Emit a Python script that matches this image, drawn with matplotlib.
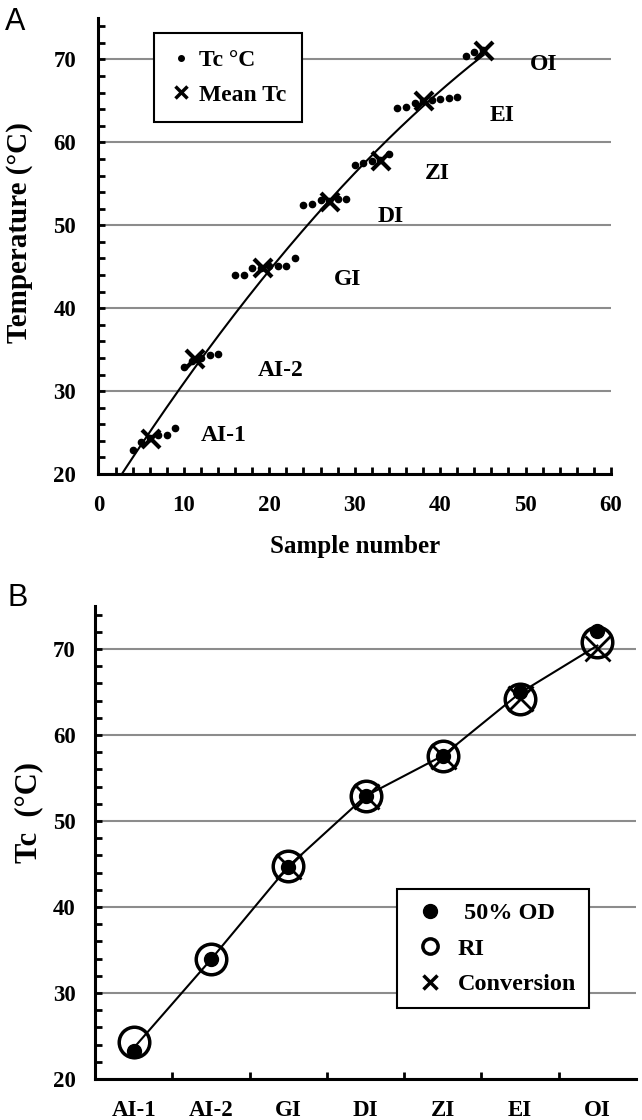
import numpy as np
import matplotlib
matplotlib.use('Agg')
import matplotlib.pyplot as plt
from matplotlib.lines import Line2D
from matplotlib.ticker import MultipleLocator

plt.rcParams['font.family'] = ['Liberation Serif', 'DejaVu Serif']
plt.rcParams['font.weight'] = 'bold'
plt.rcParams['axes.labelweight'] = 'bold'

# panel A: individual samples
sample_no = [4, 5, 6, 7, 8, 9,
             10, 11, 12, 13, 14,
             16, 17, 18, 19, 20, 21, 22, 23,
             24, 25, 26, 27, 28, 29,
             30, 31, 32, 33, 34,
             35, 36, 37, 38, 39, 40, 41, 42,
             43, 44, 45]
tc_sample = [22.9, 23.8, 24.3, 24.7, 24.7, 25.5,
             32.9, 33.6, 34.0, 34.4, 34.5,
             44.0, 44.0, 44.8, 44.9, 45.1, 45.1, 45.1, 46.0,
             52.4, 52.6, 53.0, 52.9, 53.2, 53.2,
             57.3, 57.5, 57.8, 57.9, 58.6,
             64.2, 64.3, 64.7, 65.0, 65.1, 65.2, 65.3, 65.5,
             70.4, 70.9, 71.1]

# panel A: group means
mean_sample = [6.2, 11.25, 19.3, 27.15, 33.1, 38.15, 45.1]
mean_tc = [24.2, 33.9, 44.9, 52.8, 57.75, 64.95, 71.05]
group_names = ['AI-1', 'AI-2', 'GI', 'DI', 'ZI', 'EI', 'OI']
label_x = [14.7, 21.3, 29.2, 34.2, 39.7, 47.3, 52.1]
label_y = [24.6, 32.5, 43.4, 51.0, 56.3, 63.2, 69.4]

# panel B
categories = ['AI-1', 'AI-2', 'GI', 'DI', 'ZI', 'EI', 'OI']
od50 = [23.2, 34.0, 44.7, 52.9, 57.6, 65.0, 72.1]
ri = [24.3, 33.9, 44.8, 52.9, 57.6, 64.2, 70.8]
conversion = [np.nan, np.nan, 44.8, 52.9, 57.6, 64.3, 70.1]
tc_line = [23.6, 33.9, 44.7, 52.9, 57.6, 64.9, 70.4]

grid_col = '#8c8c8c'
fs = 16.5


def style_axes(ax):
    for s in ['top', 'right']:
        ax.spines[s].set_visible(False)
    for s in ['left', 'bottom']:
        ax.spines[s].set_linewidth(2.2)
    ax.set_ylim(20, 75)
    ax.yaxis.set_major_locator(MultipleLocator(10))
    ax.yaxis.set_minor_locator(MultipleLocator(2))
    ax.yaxis.grid(True, which='major', color=grid_col, lw=1.5)
    ax.set_axisbelow(True)
    ax.tick_params(which='both', direction='in', length=5, width=2, labelsize=fs)


fig = plt.figure(figsize=(6.42, 11.2), dpi=100)

# ---- A ----
axA = fig.add_axes([0.1534, 0.5768, 0.7983, 0.4071])
style_axes(axA)
axA.set_xlim(0, 60)
axA.xaxis.set_major_locator(MultipleLocator(10))
axA.xaxis.set_minor_locator(MultipleLocator(2))
axA.tick_params(axis='y', pad=16)
axA.tick_params(axis='x', pad=15)

coef = np.polyfit(mean_sample, mean_tc, 2)
xs = np.linspace(0, mean_sample[-1], 200)
axA.plot(xs, np.polyval(coef, xs), color='k', lw=1.5, zorder=2)
axA.plot(sample_no, tc_sample, 'o', color='k', ms=4.5, zorder=3)
axA.plot(mean_sample, mean_tc, 'x', color='k', ms=13, mew=3, zorder=4)
for name, lx, ly in zip(group_names, label_x, label_y):
    axA.text(lx, ly, name, fontsize=17, ha='center', va='center')

axA.set_xlabel('Sample number', fontsize=18, labelpad=14)
axA.set_ylabel('Temperature (\u00b0C)', fontsize=21)
axA.yaxis.set_label_coords(-0.128, 0.53)

hA = [Line2D([], [], marker='o', ls='none', color='k', ms=4),
      Line2D([], [], marker='x', ls='none', color='k', ms=9, mew=2.5)]
legA = axA.legend(hA, ['Tc \u00b0C', 'Mean Tc'], loc='upper left',
                  bbox_to_anchor=(0.108, 0.967), borderaxespad=0,
                  fancybox=False, framealpha=1, edgecolor='k',
                  prop={'size': 17, 'weight': 'bold'},
                  handlelength=0.9, handletextpad=0.3, labelspacing=0.55,
                  borderpad=0.7)
legA.get_frame().set_linewidth(1.5)

# ---- B ----
axB = fig.add_axes([0.148, 0.0366, 0.8427, 0.4223])
style_axes(axB)
xpos = np.arange(len(categories))
axB.set_xlim(-0.5, len(categories) - 0.5)
axB.set_xticks(np.arange(0.5, len(categories) - 1, 1))
axB.set_xticklabels([])
axB.set_xticks(xpos, minor=True)
axB.set_xticklabels(categories, minor=True)
axB.tick_params(axis='x', which='minor', length=0, pad=15)
axB.tick_params(axis='y', pad=14)

axB.plot(xpos, tc_line, color='k', lw=1.5, zorder=2)
axB.plot(xpos, ri, 'o', ms=22, mfc='none', mec='k', mew=2.5, zorder=3)
axB.plot(xpos, od50, 'o', ms=10, color='k', zorder=4)
axB.plot(xpos, conversion, 'x', ms=18, color='k', mew=2, zorder=5)

axB.set_ylabel('Tc  (\u00b0C)', fontsize=22)
axB.yaxis.set_label_coords(-0.095, 0.564)

hB = [Line2D([], [], marker='o', ls='none', color='k', ms=10),
      Line2D([], [], marker='o', ls='none', mfc='none', mec='k', ms=11, mew=2.5),
      Line2D([], [], marker='x', ls='none', color='k', ms=10, mew=2.5)]
legB = axB.legend(hB, [' 50% OD', 'RI', 'Conversion'], loc='upper left',
                  bbox_to_anchor=(0.558, 0.402), borderaxespad=0,
                  fancybox=False, framealpha=1, edgecolor='k',
                  prop={'size': 17.5, 'weight': 'bold'},
                  handlelength=1.6, handletextpad=0.35, labelspacing=0.55,
                  borderpad=0.55)
legB.get_frame().set_linewidth(1.5)

fig.text(5 / 642, 1 - 30 / 1120, 'A', fontsize=22, family='Liberation Sans',
         weight='normal', va='baseline')
fig.text(8 / 642, 1 - 606 / 1120, 'B', fontsize=22, family='Liberation Sans',
         weight='normal', va='baseline')

fig.savefig('out.png', dpi=100)
